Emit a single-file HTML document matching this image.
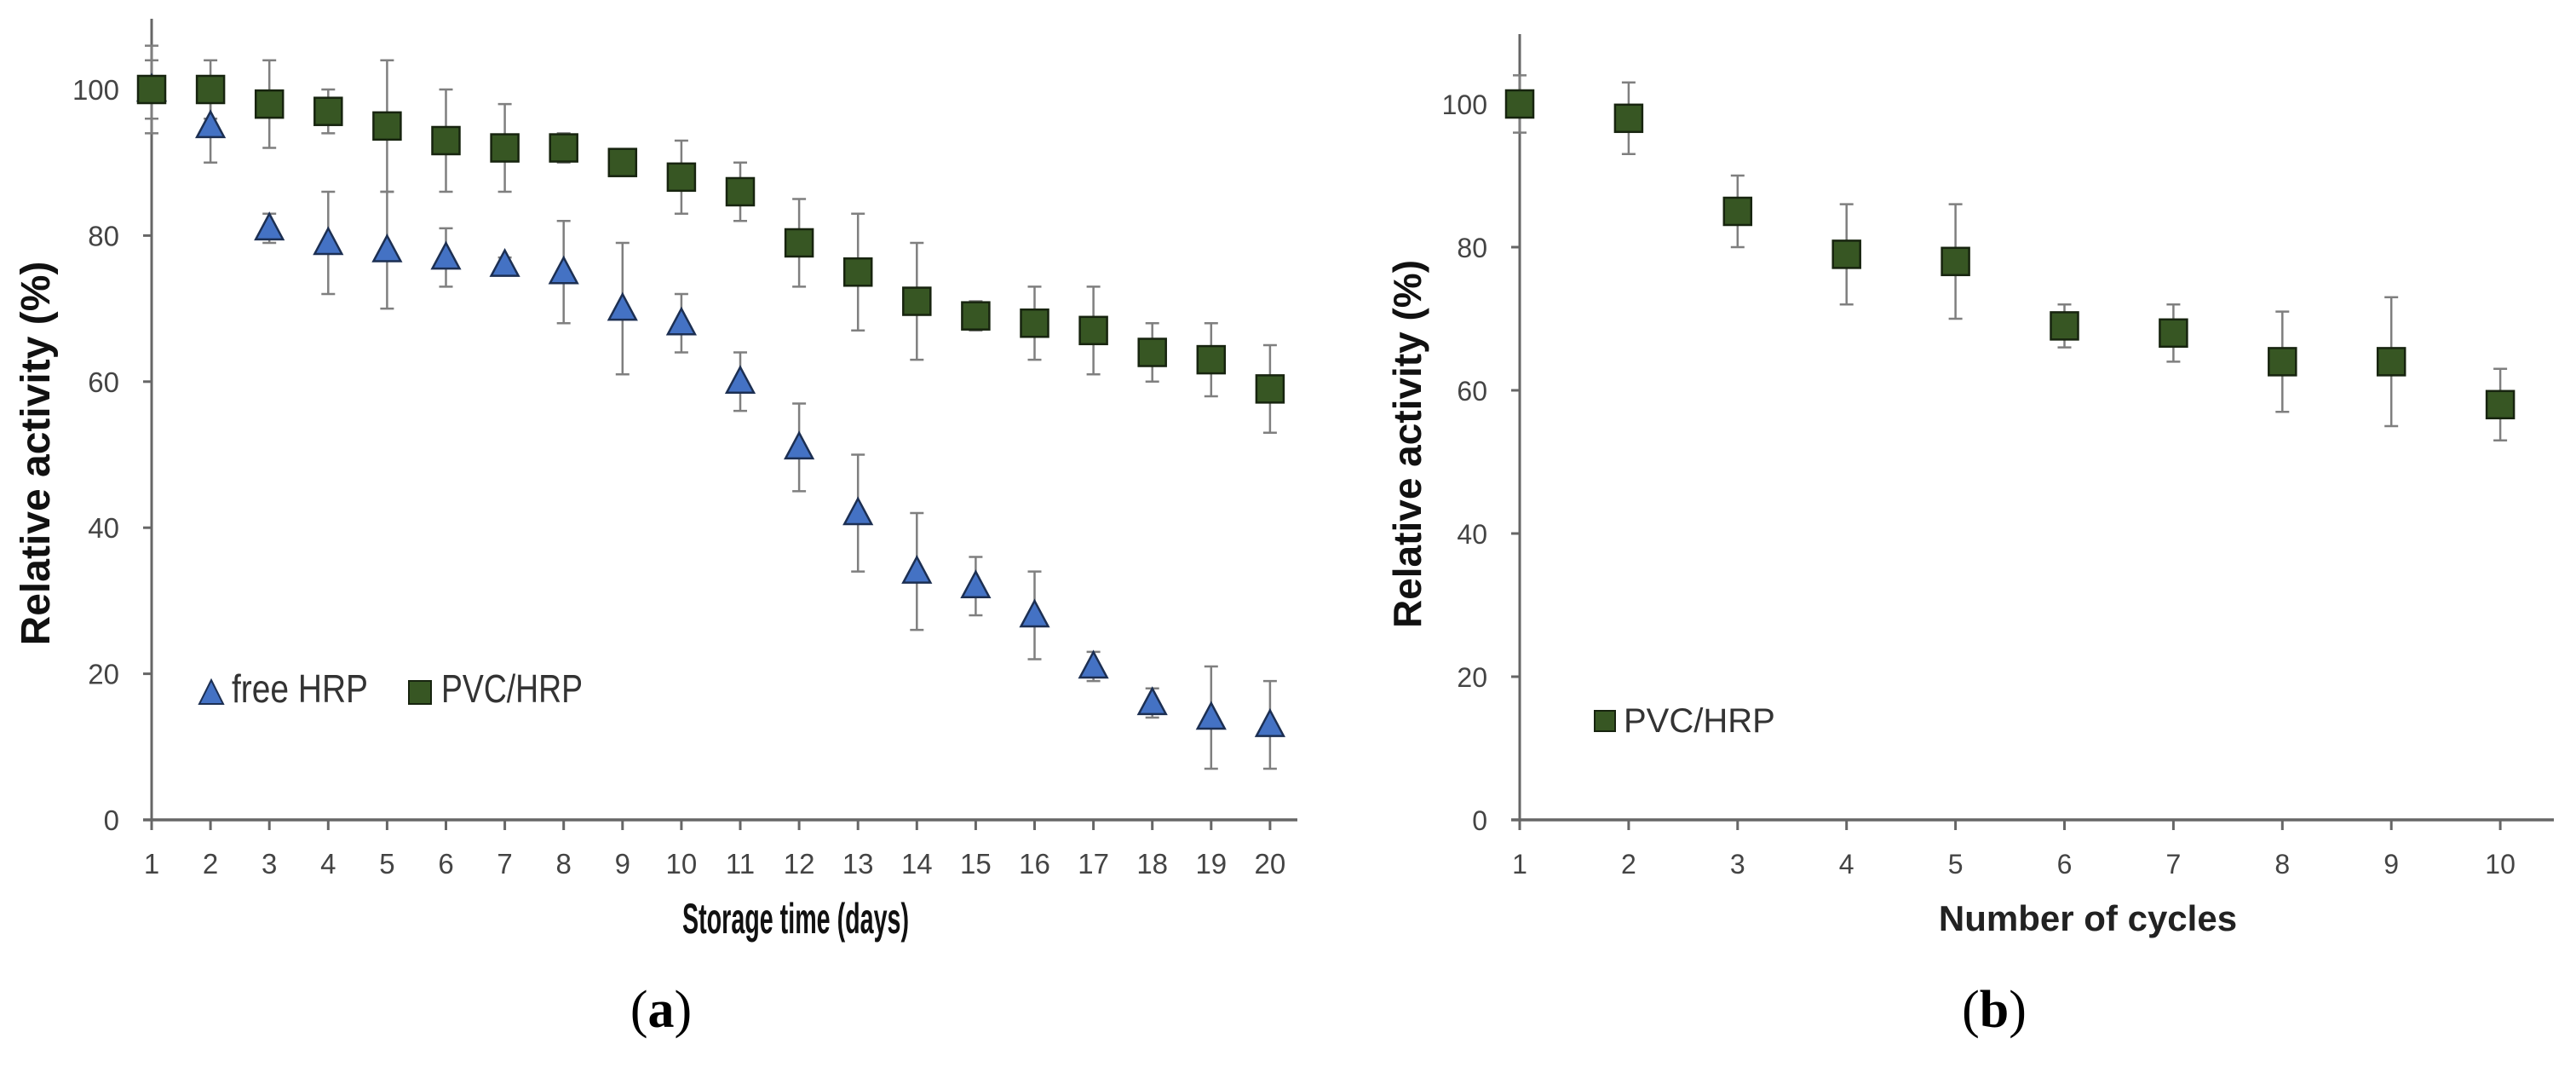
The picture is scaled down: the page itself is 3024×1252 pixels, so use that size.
<!DOCTYPE html>
<html><head><meta charset="utf-8">
<style>
html,body{margin:0;padding:0;background:#fff;}
svg{display:block;}
text{font-family:"Liberation Sans",sans-serif;}
</style></head>
<body>
<svg id="fig" width="3024" height="1252" viewBox="0 0 3024 1252" xmlns="http://www.w3.org/2000/svg">
<rect width="3024" height="1252" fill="#fff"/>
<g id="chartA"></g>
<g id="chartB"></g>
<text x="0" y="0" transform="translate(58,532) rotate(-90)" text-anchor="middle" font-size="48" font-weight="bold" fill="#111">Relative activity (%)</text>
<text x="934" y="1095" text-anchor="middle" font-size="50" font-weight="bold" fill="#111" textLength="266" lengthAdjust="spacingAndGlyphs">Storage time (days)</text>
<text x="0" y="0" transform="translate(1668,521) rotate(-90)" text-anchor="middle" font-size="46" font-weight="bold" fill="#111">Relative activity (%)</text>
<text x="2451" y="1092" text-anchor="middle" font-size="42" font-weight="bold" fill="#222">Number of cycles</text>
<text x="776" y="1205" text-anchor="middle" font-size="62" fill="#000" style="font-family:'Liberation Serif',serif">(<tspan font-weight="bold">a</tspan>)</text>
<text x="2341" y="1205" text-anchor="middle" font-size="62" fill="#000" style="font-family:'Liberation Serif',serif">(<tspan font-weight="bold">b</tspan>)</text>
</svg>
<script>
// ---- Chart A data ----
const daysA = [1,2,3,4,5,6,7,8,9,10,11,12,13,14,15,16,17,18,19,20];
const freeHRP = [100,95,81,79,78,77,76,75,70,68,60,51,42,34,32,28,21,16,14,13];
const freeHRPErr = [6,5,2,7,8,4,1,7,9,4,4,6,8,8,4,6,2,2,7,6];
const pvcHRP = [100,100,98,97,95,93,92,92,90,88,86,79,75,71,69,68,67,64,63,59];
const pvcHRPErr = [4,4,6,3,9,7,6,2,1,5,4,6,8,8,2,5,6,4,5,6];
const yTicks = [0,20,40,60,80,100];
// ---- Chart B data ----
const cycles = [1,2,3,4,5,6,7,8,9,10];
const pvcCycles = [100,98,85,79,78,69,68,64,64,58];
const pvcCyclesErr = [4,5,5,7,8,3,4,7,9,5];

const NS = "http://www.w3.org/2000/svg";
function mk(parent, tag, attrs){
  const e = document.createElementNS(NS, tag);
  for (const k in attrs) e.setAttribute(k, attrs[k]);
  parent.appendChild(e);
  return e;
}

function drawChart(g, cfg){
  const xs = v => cfg.x0 + (v - cfg.xmin) * cfg.xstep;
  const ys = v => cfg.y0 - v * cfg.ystep;
  const ya = mk(g, "line", {x1:cfg.x0, y1:cfg.yTop, x2:cfg.x0, y2:cfg.y0+2, stroke:"#666", "stroke-width":3});
  
  
  const xa = mk(g, "line", {x1:cfg.x0-10, y1:cfg.y0, x2:cfg.xEnd, y2:cfg.y0, stroke:"#666", "stroke-width":3.5});
  
  
  yTicks.forEach(t => {
    const y = ys(t);
    mk(g, "line", {x1:cfg.x0-10, y1:y, x2:cfg.x0, y2:y, stroke:"#666", "stroke-width":3});
    const tl = mk(g, "text", {x:cfg.x0 - 38, y:y+12, "text-anchor":"end", "font-size":cfg.tickFs, fill:"#444"});
    tl.textContent = t;
    
    
  });
  cfg.cats.forEach(c => {
    const x = xs(c);
    mk(g, "line", {x1:x, y1:cfg.y0, x2:x, y2:cfg.y0+12, stroke:"#666", "stroke-width":3});
    const tl = mk(g, "text", {x:x, y:cfg.y0+63, "text-anchor":"middle", "font-size":cfg.tickFs, fill:"#444"});
    tl.textContent = c;
    
    
  });
  cfg.series.forEach(s => {
    cfg.cats.forEach((c, i) => {
      const x = xs(c), v = s.vals[i], e = s.err[i];
      const eb = mk(g, "path", {d:`M${x},${ys(v+e)}V${ys(v-e)}M${x-8},${ys(v+e)}H${x+8}M${x-8},${ys(v-e)}H${x+8}`, stroke:"#7f7f7f", "stroke-width":2.5, fill:"none"});
      
      
    });
  });
  cfg.series.forEach(s => {
    cfg.cats.forEach((c, i) => {
      const x = xs(c), y = ys(s.vals[i]);
      let m;
      if (s.shape === "square") {
        m = mk(g, "rect", {x:x-16, y:y-16, width:32, height:32, fill:"#375623", stroke:"#17240f", "stroke-width":2.5});
      } else {
        m = mk(g, "path", {d:`M${x},${y-17}L${x+16},${y+13}L${x-16},${y+13}Z`, fill:"#4472c4", stroke:"#1c2f52", "stroke-width":2.5});
      }
      
      
    });
  });
}

const gA = document.getElementById("chartA");
drawChart(gA, {id:"chart-a", x0:178, xmin:1, xstep:69.1, y0:962, ystep:8.57, yTop:22, xEnd:1523, tickFs:33,
  cats:daysA,
  series:[{name:"free-hrp", vals:freeHRP, err:freeHRPErr, shape:"triangle"},
          {name:"pvc-hrp", vals:pvcHRP, err:pvcHRPErr, shape:"square"}]});
const gB = document.getElementById("chartB");
drawChart(gB, {id:"chart-b", x0:1784, xmin:1, xstep:127.9, y0:962, ystep:8.4, yTop:40, xEnd:2998, tickFs:32,
  cats:cycles,
  series:[{name:"pvc-hrp-cycles", vals:pvcCycles, err:pvcCyclesErr, shape:"square"}]});

const legA = mk(gA, "g", {});


const l1 = mk(legA, "path", {d:"M248,798L262,826L234,826Z", fill:"#4472c4", stroke:"#1c2f52", "stroke-width":2});


const t1 = mk(legA, "text", {x:272, y:824, "font-size":46, fill:"#333", textLength:160, lengthAdjust:"spacingAndGlyphs"});
t1.textContent = "free HRP";


const l2 = mk(legA, "rect", {x:480, y:799, width:26, height:27, fill:"#375623", stroke:"#17240f", "stroke-width":2});


const t2 = mk(legA, "text", {x:518, y:824, "font-size":46, fill:"#333", textLength:166, lengthAdjust:"spacingAndGlyphs"});
t2.textContent = "PVC/HRP";



const legB = mk(gB, "g", {});


const l3 = mk(legB, "rect", {x:1872, y:834, width:24, height:24, fill:"#375623", stroke:"#17240f", "stroke-width":2});


const t3 = mk(legB, "text", {x:1906, y:859, "font-size":40, fill:"#333"});
t3.textContent = "PVC/HRP";


</script>
</body></html>
